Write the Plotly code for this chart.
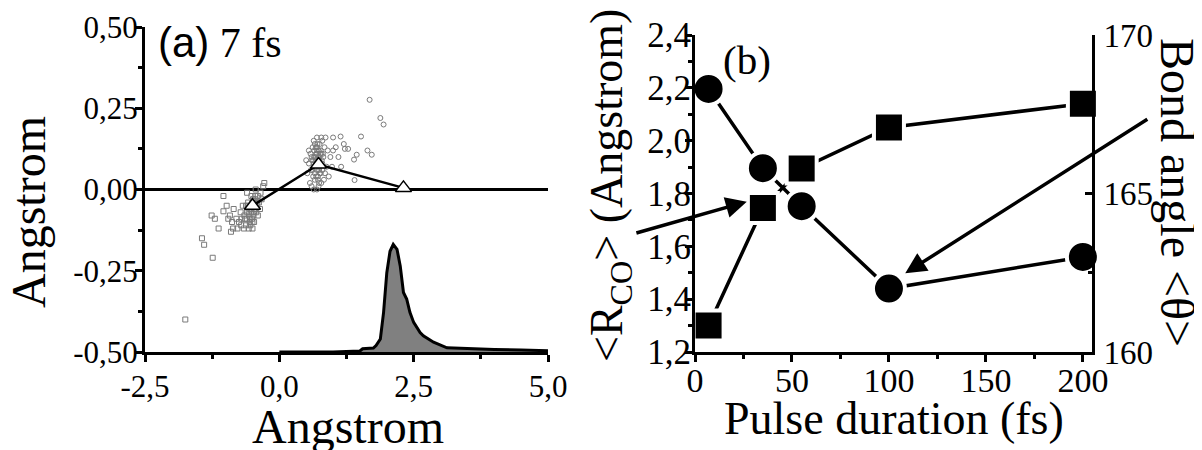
import plotly.graph_objects as go

W, H = 1202, 450
OFF = 8  # the page body adds an 8 px margin; compensate in layout positions

# ---------------- Panel (a) data ----------------
# cluster around the first triangle (open squares)
cl1_x = [-0.50, -0.45, -0.55, -0.60, -0.40, -0.48, -0.52, -0.58, -0.42, -0.65,
         -0.70, -0.35, -0.38, -0.62, -0.55, -0.47, -0.68, -0.75, -0.80, -0.44,
         -0.33, -0.57, -0.66, -0.50, -0.72, -0.85, -0.30, -0.40, -0.78, -0.60,
         -0.52, -0.46, -0.36, -0.62, -0.88, -0.54, -0.43, -0.64, -0.71, -0.49,
         -0.49, -0.53, -0.46, -0.56, -0.51, -0.44, -0.59, -0.48, -0.54, -0.41,
         -0.57, -0.50, -0.47, -0.61, -0.45,
         -1.04, -1.26, -1.20, -1.13, -1.44, -1.40, -1.24, -1.75, -0.86, -1.04,
         -0.95, -0.90, -0.28, -0.98, -0.92]
cl1_y = [-0.04, -0.03, -0.06, -0.07, -0.02, -0.08, -0.02, -0.04, -0.05, -0.08,
         -0.09, -0.01, -0.04, -0.11, -0.10, -0.10, -0.05, -0.10, -0.09, 0.00,
         -0.03, -0.12, -0.12, -0.12, -0.07, -0.06, 0.01, -0.08, -0.12, -0.01,
         -0.07, -0.06, -0.06, -0.05, -0.10, -0.09, -0.07, -0.09, -0.11, -0.03,
         -0.05, -0.06, -0.04, -0.08, -0.09, -0.06, -0.05, -0.03, -0.11, -0.04,
         -0.07, -0.10, -0.07, -0.09, -0.02,
         -0.02, -0.08, -0.09, -0.12, -0.15, -0.17, -0.21, -0.40, -0.12, -0.067,
         -0.09, -0.13, 0.02, -0.05, -0.08]

# cluster around the second triangle (open circles)
cl2_x = [0.60, 0.65, 0.70, 0.75, 0.80, 0.68, 0.62, 0.58, 0.55, 0.72,
         0.78, 0.66, 0.60, 0.70, 0.85, 0.82, 0.90, 0.88, 0.52, 0.64,
         0.76, 0.84, 0.95, 1.00, 0.92, 0.57, 0.74, 0.80, 0.67, 0.62,
         0.86, 0.78, 0.70, 0.98, 1.05, 0.55, 0.50, 0.72, 0.83, 0.64,
         0.61, 0.69, 0.77, 0.66, 0.59, 0.73, 0.81, 0.63,
         0.71, 0.74, 0.69, 0.76, 0.73, 0.67, 0.79, 0.64, 0.70, 0.75,
         0.72, 0.68, 0.77, 0.65, 0.71, 0.74, 0.69, 0.80, 0.63, 0.78,
         0.72, 0.66, 0.75, 0.70, 0.73,
         1.68, 1.88, 1.94, 1.14, 1.52, 1.64, 1.72, 1.44, 1.39, 1.22,
         1.28, 1.40, 1.10, 1.15, 1.20, 1.00]
cl2_y = [0.10, 0.12, 0.13, 0.14, 0.15, 0.09, 0.06, 0.11, 0.08, 0.04,
         0.02, 0.03, 0.01, 0.00, 0.05, 0.10, 0.12, 0.07, 0.05, 0.15,
         0.11, 0.13, 0.10, 0.12, 0.04, 0.02, 0.06, 0.08, 0.07, 0.13,
         0.16, 0.16, 0.16, 0.07, 0.13, 0.12, 0.09, 0.10, 0.03, 0.00,
         0.09, 0.11, 0.05, 0.14, 0.06, 0.12, 0.11, 0.04,
         0.08, 0.09, 0.11, 0.07, 0.12, 0.10, 0.09, 0.08, 0.06, 0.05,
         0.03, 0.13, 0.12, 0.10, 0.14, 0.02, 0.04, 0.06, 0.09, 0.11,
         0.07, 0.05, 0.10, 0.12, 0.01,
         0.276, 0.22, 0.20, 0.163, 0.163, 0.12, 0.107, 0.107, 0.092, 0.125,
         0.125, 0.029, 0.10, 0.07, 0.14, 0.16]

tri_x = [-0.5, 0.73, 2.31]
tri_y = [-0.05, 0.077, 0.005]

dist_x = [0.0, 1.0, 1.5, 1.55, 1.75, 1.8, 1.88, 1.94, 2.0, 2.06, 2.12, 2.19,
          2.25, 2.31, 2.37, 2.43, 2.5, 2.62, 2.68, 2.87, 3.12, 3.5, 4.0, 4.5, 5.0]
dist_y = [-0.50, -0.50, -0.497, -0.49, -0.488, -0.48, -0.46, -0.378, -0.256,
          -0.19, -0.169, -0.184, -0.235, -0.317, -0.337, -0.378, -0.409, -0.44,
          -0.45, -0.47, -0.487, -0.49, -0.492, -0.494, -0.496]
dist_base = -0.5

a_xticks = [-2.5, 0.0, 2.5, 5.0]
a_xticklabels = ["-2,5", "0,0", "2,5", "5,0"]
a_yticks = [-0.5, -0.25, 0.0, 0.25, 0.5]
a_yticklabels = ["-0,50", "-0,25", "0,00", "0,25", "0,50"]

# ---------------- Panel (b) data ----------------
pulse_fs = [7, 35, 55, 100, 200]
r_co = [1.30, 1.745, 1.895, 2.05, 2.14]
bond_angle = [168.3, 165.8, 164.6, 162.0, 163.0]

b_xticks = [0, 50, 100, 150, 200]
b_xticklabels = ["0", "50", "100", "150", "200"]
b_yticks = [1.2, 1.4, 1.6, 1.8, 2.0, 2.2, 2.4]
b_yticklabels = ["1,2", "1,4", "1,6", "1,8", "2,0", "2,2", "2,4"]
b_y2ticks = [160, 165, 170]
b_y2ticklabels = ["160", "165", "170"]


def px(xp):
    return (xp - OFF) / W


def py(yp):
    return 1 - (yp - OFF) / H


SERIF = "Liberation Serif"
GRAY = "#7a7a7a"

fig = go.Figure()

# panel (a)
fig.add_trace(go.Scatter(x=cl1_x, y=cl1_y, mode="markers", xaxis="x", yaxis="y",
                         marker=dict(symbol="square-open", size=5, color=GRAY,
                                     line=dict(width=1, color=GRAY))))
fig.add_trace(go.Scatter(x=cl2_x, y=cl2_y, mode="markers", xaxis="x", yaxis="y",
                         marker=dict(symbol="circle-open", size=5, color=GRAY,
                                     line=dict(width=1, color=GRAY))))
fig.add_trace(go.Scatter(x=[dist_x[0], dist_x[-1]], y=[dist_base, dist_base],
                         mode="lines", line=dict(width=0, color="black"),
                         xaxis="x", yaxis="y"))
fig.add_trace(go.Scatter(x=dist_x, y=dist_y, mode="lines", fill="tonexty",
                         fillcolor="#808080", line=dict(color="black", width=3),
                         xaxis="x", yaxis="y"))
fig.add_trace(go.Scatter(x=tri_x, y=tri_y, mode="lines+markers", xaxis="x", yaxis="y",
                         line=dict(color="black", width=2.5),
                         marker=dict(symbol="triangle-up", size=14, color="white",
                                     line=dict(color="black", width=1.5)),
                         cliponaxis=False))

# panel (b): lines first, then markers with white rings (gaps)
fig.add_trace(go.Scatter(x=pulse_fs, y=r_co, mode="lines", xaxis="x2", yaxis="y2",
                         line=dict(color="black", width=3.5)))
fig.add_trace(go.Scatter(x=pulse_fs, y=bond_angle, mode="lines", xaxis="x2", yaxis="y3",
                         line=dict(color="black", width=3.5)))
fig.add_trace(go.Scatter(x=pulse_fs, y=r_co, mode="markers", xaxis="x2", yaxis="y2",
                         marker=dict(symbol="square", size=30, color="black",
                                     line=dict(color="white", width=4)),
                         cliponaxis=False))
fig.add_trace(go.Scatter(x=pulse_fs, y=bond_angle, mode="markers", xaxis="x2", yaxis="y3",
                         marker=dict(symbol="circle", size=32, color="black",
                                     line=dict(color="white", width=4)),
                         cliponaxis=False))

axis_common = dict(showline=True, linecolor="black", linewidth=3, mirror=False,
                   showgrid=False, ticks="outside", tickcolor="black", tickwidth=3,
                   ticklen=7, automargin=False,
                   tickfont=dict(family=SERIF, size=31, color="black"),
                   layer="above traces")

fig.update_layout(
    template="none",
    width=W, height=H, margin=dict(l=0, r=0, t=0, b=0, pad=0),
    paper_bgcolor="white", plot_bgcolor="rgba(0,0,0,0)", showlegend=False,
    font=dict(family=SERIF, color="black"),
    xaxis=dict(domain=[px(145), px(548)], range=[-2.5, 5.0], anchor="y",
               tickmode="array", tickvals=a_xticks, ticktext=a_xticklabels,
               zeroline=False, ticklabelstandoff=-2,
               minor=dict(tickvals=[-1.25, 1.25, 3.75], ticks="outside", ticklen=4,
                          tickwidth=3, tickcolor="black"),
               **axis_common),
    yaxis=dict(domain=[py(352), py(27)], range=[-0.5, 0.5], anchor="x",
               tickmode="array", tickvals=a_yticks, ticktext=a_yticklabels,
               zeroline=True, zerolinecolor="black", zerolinewidth=3,
               ticklabelstandoff=-9,
               minor=dict(tickvals=[-0.375, -0.125, 0.125, 0.375], ticks="outside",
                          ticklen=4, tickwidth=3, tickcolor="black"),
               **axis_common),
    xaxis2=dict(domain=[px(695), px(1092)], range=[0, 204.7], anchor="y2",
                tickmode="array", tickvals=b_xticks, ticktext=b_xticklabels,
                zeroline=False, ticklabelstandoff=-11,
                minor=dict(tickvals=[25, 75, 125, 175], ticks="outside", ticklen=4,
                           tickwidth=3, tickcolor="black"),
                **{**axis_common, "tickfont": dict(family=SERIF, size=34, color="black")}),
    yaxis2=dict(domain=[py(352), py(35)], range=[1.2, 2.4], anchor="x2",
                tickmode="array", tickvals=b_yticks, ticktext=b_yticklabels,
                zeroline=False, ticklabelstandoff=-13,
                minor=dict(tickvals=[1.3, 1.5, 1.7, 1.9, 2.1, 2.3], ticks="outside",
                           ticklen=4, tickwidth=3, tickcolor="black"),
                **{**axis_common, "tickfont": dict(family=SERIF, size=35, color="black")}),
    yaxis3=dict(range=[160, 170], overlaying="y2", side="right", anchor="x2",
                tickmode="array", tickvals=b_y2ticks, ticktext=b_y2ticklabels,
                zeroline=False, ticklabelstandoff=2,
                minor=dict(tickvals=[162.5, 167.5], ticks="inside", ticklen=4,
                           tickwidth=3, tickcolor="black"),
                **{**axis_common, "ticks": "inside",
                   "tickfont": dict(family=SERIF, size=33, color="black")}),
)

ann = []
# axis titles
ann.append(dict(text="Angstrom", x=px(348), y=py(426), xref="paper", yref="paper",
                showarrow=False, xanchor="center", yanchor="middle",
                font=dict(family=SERIF, size=48, color="black")))
ann.append(dict(text="Angstrom", x=px(28), y=py(212), xref="paper", yref="paper",
                showarrow=False, xanchor="center", yanchor="middle", textangle=-90,
                font=dict(family=SERIF, size=48, color="black")))
ann.append(dict(text="Pulse duration (fs)", x=px(894), y=py(418), xref="paper", yref="paper",
                showarrow=False, xanchor="center", yanchor="middle",
                font=dict(family=SERIF, size=46, color="black")))
ann.append(dict(text="&lt;R<sub>CO</sub>&gt; (Angstrom)", x=px(610), y=py(186),
                xref="paper", yref="paper", showarrow=False, xanchor="center",
                yanchor="middle", textangle=-90,
                font=dict(family=SERIF, size=46, color="black")))
ann.append(dict(text="Bond angle &lt;θ&gt;", x=px(1178), y=py(192), xref="paper",
                yref="paper", showarrow=False, xanchor="center", yanchor="middle",
                textangle=90, font=dict(family=SERIF, size=48, color="black")))
# panel labels
ann.append(dict(text="<span style='font-family:Liberation Sans'>(a)</span> 7 fs",
                x=px(156), y=py(43), xref="paper", yref="paper", showarrow=False,
                xanchor="left", yanchor="middle",
                font=dict(family=SERIF, size=42, color="black")))
ann.append(dict(text="(b)", x=px(747), y=py(60), xref="paper", yref="paper",
                showarrow=False, xanchor="center", yanchor="middle",
                font=dict(family=SERIF, size=41, color="black")))
# arrows
ann.append(dict(text="", x=26.7, y=1.769, xref="x2", yref="y2",
                ax=-31, ay=1.649, axref="x2", ayref="y2", showarrow=True,
                arrowhead=2, arrowsize=1.2, arrowwidth=3.5, arrowcolor="black",
                standoff=0))
ann.append(dict(text="", x=108.4, y=1.498, xref="x2", yref="y2",
                ax=234, ay=2.085, axref="x2", ayref="y2", showarrow=True,
                arrowhead=2, arrowsize=1.2, arrowwidth=3.5, arrowcolor="black",
                standoff=0))
fig.update_layout(annotations=ann)

fig.write_html("out.html")
